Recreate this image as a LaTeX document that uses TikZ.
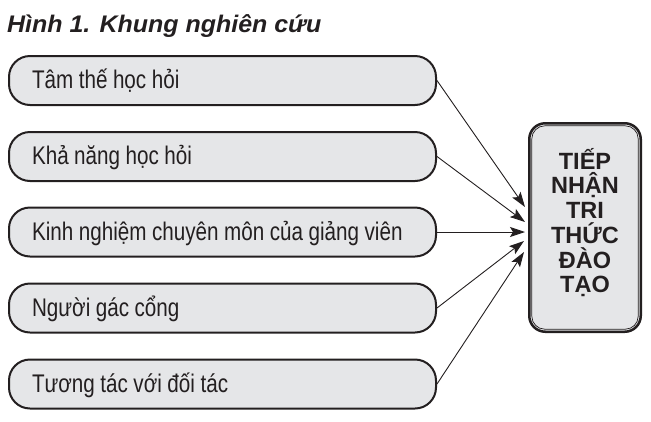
\documentclass[tikz,border=0pt]{standalone}
\usepackage{fontspec}
\setmainfont{Liberation Sans}
\newfontfamily\lblfont[FakeStretch=0.81]{Liberation Sans}
\newfontfamily\titlefont[FakeStretch=1.04]{Liberation Sans}
\usetikzlibrary{arrows.meta}
\definecolor{boxgray}{RGB}{229,230,232}
\definecolor{ink}{RGB}{35,31,32}
\newcommand\tightspaces{\spaceskip=5.5pt\relax}
\tikzset{
  factor/.style={draw=ink, line width=2pt, fill=boxgray, rounded corners=21pt,
    minimum width=427pt, minimum height=49pt, inner xsep=23pt, inner ysep=0pt,
    text width=381pt, align=left, text height=20pt, text depth=4pt,
    font=\lblfont\fontsize{25.5}{28}\selectfont, text=ink,
    execute at begin node=\tightspaces},
  target/.style={draw=ink, line width=2.5pt, fill=boxgray, rounded corners=16pt,
    minimum width=111.5pt, minimum height=208.5pt, inner sep=0pt, align=center,
    font=\bfseries\fontsize{23.5}{24.7}\selectfont, text=ink},
  link/.style={draw=ink, line width=0.9pt, -{Stealth[length=15pt,width=10pt,inset=3pt]}}
}
\begin{document}
\begin{tikzpicture}[x=1pt,y=-1pt]
\useasboundingbox (0,0) rectangle (651,421);
\node[anchor=base west, font=\titlefont\bfseries\itshape\fontsize{24}{28}\selectfont, text=ink, inner sep=0pt] (title) at (7,32) {Hình 1. Khung nghiên cứu};
\node[factor] (b1) at (222.5,80.5) {\mbox{Tâm thế học hỏi}};
\node[factor] (b2) at (222.5,156.5) {\mbox{Khả năng học hỏi}};
\node[factor] (b3) at (222.5,232) {\mbox{Kinh nghiệm chuyên môn của giảng viên}};
\node[factor] (b4) at (222.5,308) {\mbox{Người gác cổng}};
\node[factor] (b5) at (222.5,384) {\mbox{Tương tác với đối tác}};
\node[target] (t) at (585,227.5) {TIẾP\\NHẬN\\TRI\\THỨC\\ĐÀO\\TẠO\rule[-14pt]{0pt}{14pt}};
\draw[ink, line width=0.7pt, rounded corners=13pt] ([shift={(3.8,3.8)}]t.north west) rectangle ([shift={(-3.8,-3.8)}]t.south east);
\coordinate (e1) at (525,207);
\coordinate (e2) at (525,222);
\coordinate (e3) at (525,232);
\coordinate (e4) at (524,241);
\coordinate (e5) at (524,252);
\draw[link] (b1.east) -- (e1);
\draw[link] (b2.east) -- (e2);
\draw[link] (b3.east) -- (e3);
\draw[link] (b4.east) -- (e4);
\draw[link] (b5.east) -- (e5);
\end{tikzpicture}
\end{document}
